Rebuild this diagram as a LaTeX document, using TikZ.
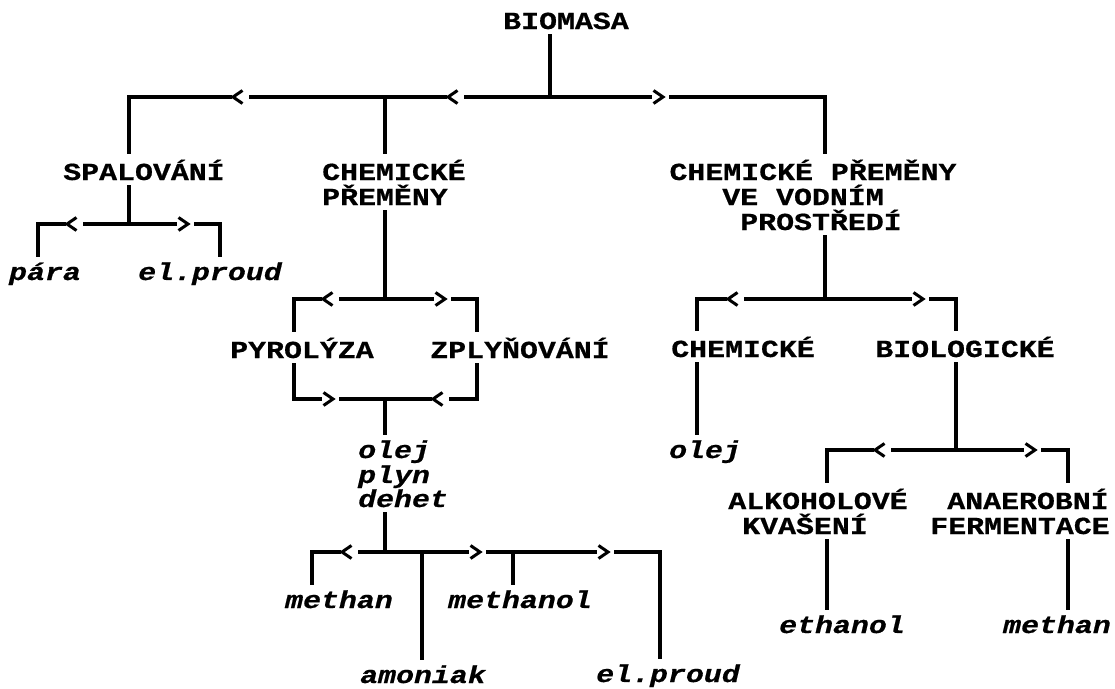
\documentclass[tikz,border=0pt]{standalone}
\usepackage{fontspec}
\newfontfamily\pixfont[FakeStretch=1.22,BoldFeatures={FakeBold=0.6},BoldItalicFeatures={FakeBold=0.6}]{Liberation Mono}
\begin{document}
\begin{tikzpicture}[x=1pt,y=-1pt,
  lbl/.style={font=\pixfont\fontsize{24.5}{25}\selectfont\bfseries, inner sep=5pt, anchor=base},
  ital/.style={font=\pixfont\fontsize{24.5}{25}\selectfont\bfseries\itshape, inner sep=5pt, anchor=base},
  conn/.style={line width=3.3pt},
  pics/chevl/.style={code={
    \fill[white] (-6,-2.8) rectangle (11,2.8);
    \draw[line width=3pt] (4.5,-6.5) -- (-5,0) -- (4.5,6.5);
  }},
  pics/chevr/.style={code={
    \fill[white] (-6,-2.8) rectangle (11,2.8);
    \draw[line width=3pt] (-4.5,-6.5) -- (5,0) -- (-4.5,6.5);
  }}
]
\fill[white] (0,0) rectangle (1115,688);
\useasboundingbox (0,0) rectangle (1115,688);

% ---------- nodes ----------
\node[lbl] (BM) at (566,29) {BIOMASA};
\node[lbl] (SP) at (144,180) {SPALOVÁNÍ};
\node[lbl,anchor=base west] (CP1) at (317,180) {CHEMICKÉ};
\node[lbl,anchor=base west] (CP2) at (317,205) {PŘEMĚNY};
\node[lbl] (VP1) at (813,180) {CHEMICKÉ PŘEMĚNY};
\node[lbl] (VP2) at (803,205) {VE VODNÍM};
\node[lbl] (VP3) at (821,230) {PROSTŘEDÍ};

\node[ital] (PA) at (45,280) {pára};
\node[ital] (EL1) at (210,280) {el.proud};

\node[lbl] (PY) at (302,358) {PYROLÝZA};
\node[lbl] (ZP) at (520,358) {ZPLYŇOVÁNÍ};
\node[ital,anchor=base west] (OL1) at (353,458) {olej};
\node[ital,anchor=base west] (OL2) at (353,483) {plyn};
\node[ital,anchor=base west] (OL3) at (353,507) {dehet};
\node[ital] (ME) at (339,608) {methan};
\node[ital] (MO) at (520,608) {methanol};
\node[ital] (AM) at (423,683) {amoniak};
\node[ital] (EP) at (668,682) {el.proud};

\node[lbl] (CH) at (743,357) {CHEMICKÉ};
\node[lbl] (BI) at (965,357) {BIOLOGICKÉ};
\node[ital] (OLR) at (705,458) {olej};
\node[lbl] (AL1) at (818,509) {ALKOHOLOVÉ};
\node[lbl] (AL2) at (805,534) {KVAŠENÍ};
\node[lbl] (AN1) at (1028,509) {ANAEROBNÍ};
\node[lbl] (AN2) at (1020,534) {FERMENTACE};
\node[ital] (ET) at (842,633) {ethanol};
\node[ital] (MR) at (1057,633) {methan};

% ---------- junction coordinates ----------
\coordinate (jBM) at (550,97);
\coordinate (cSP) at (129,97);
\coordinate (cCP) at (385,97);
\coordinate (cVP) at (825,97);

\coordinate (jSP) at (129,224);
\coordinate (cPA) at (38,224);
\coordinate (cEL) at (220,224);

\coordinate (jCP) at (385,299);
\coordinate (cPY) at (294,299);
\coordinate (cZP) at (477,299);
\coordinate (jOL) at (385,399);
\coordinate (dPY) at (294,399);
\coordinate (dZP) at (477,399);

\coordinate (jPR) at (385,552);
\coordinate (cME) at (312,552);
\coordinate (cAM) at (422,552);
\coordinate (cMO) at (513,552);
\coordinate (cEP) at (660,552);

\coordinate (jVP) at (825,299);
\coordinate (cCH) at (697,299);
\coordinate (cBI) at (956,299);
\coordinate (jBI) at (956,450);
\coordinate (cAL) at (827,450);
\coordinate (cAN) at (1068,450);

% ---------- connectors ----------
\draw[conn] (BM.south -| jBM) -- (jBM);
\draw[conn] (jBM) -- (cSP) -- (SP.north -| cSP);
\draw[conn] (jBM) -- (cCP) -- (CP1.north -| cCP);
\draw[conn] (jBM) -- (cVP) -- (VP1.north -| cVP);

\draw[conn] (SP.south -| jSP) -- (jSP);
\draw[conn] (jSP) -- (cPA) -- (PA.north -| cPA);
\draw[conn] (jSP) -- (cEL) -- (EL1.north -| cEL);

\draw[conn] (CP2.south -| jCP) -- (jCP);
\draw[conn] (jCP) -- (cPY) -- (PY.north -| cPY);
\draw[conn] (jCP) -- (cZP) -- (ZP.north -| cZP);
\draw[conn] (PY.south -| dPY) -- (dPY) -- (jOL);
\draw[conn] (ZP.south -| dZP) -- (dZP) -- (jOL);
\draw[conn] (jOL) -- (OL1.north -| jOL);

\draw[conn] (OL3.south -| jPR) -- (jPR);
\draw[conn] (jPR) -- (cME) -- (ME.north -| cME);
\draw[conn] (jPR) -- (cAM) -- (AM.north -| cAM);
\draw[conn] (jPR) -- (cMO) -- (MO.north -| cMO);
\draw[conn] (jPR) -- (cEP) -- (EP.north -| cEP);

\draw[conn] (VP3.south -| jVP) -- (jVP);
\draw[conn] (jVP) -- (cCH) -- (CH.north -| cCH);
\draw[conn] (jVP) -- (cBI) -- (BI.north -| cBI);
\draw[conn] (CH.south -| cCH) -- (OLR.north -| cCH);
\draw[conn] (BI.south -| jBI) -- (jBI);
\draw[conn] (jBI) -- (cAL) -- (AL1.north -| cAL);
\draw[conn] (jBI) -- (cAN) -- (AN1.north -| cAN);
\draw[conn] (AL2.south -| cAL) -- (ET.north -| cAL);
\draw[conn] (AN2.south -| cAN) -- (MR.north -| cAN);

% ---------- chevrons ----------
\pic at (238,97) {chevl};
\pic at (453,97) {chevl};
\pic at (658,97) {chevr};
\pic at (72,224) {chevl};
\pic at (183,224) {chevr};
\pic at (328,299) {chevl};
\pic at (440,299) {chevr};
\pic at (328,399) {chevr};
\pic at (438,399) {chevl};
\pic at (347,552) {chevl};
\pic at (475,552) {chevr};
\pic at (603,552) {chevr};
\pic at (733,299) {chevl};
\pic at (918,299) {chevr};
\pic at (880,450) {chevl};
\pic at (1030,450) {chevr};
\end{tikzpicture}
\end{document}
